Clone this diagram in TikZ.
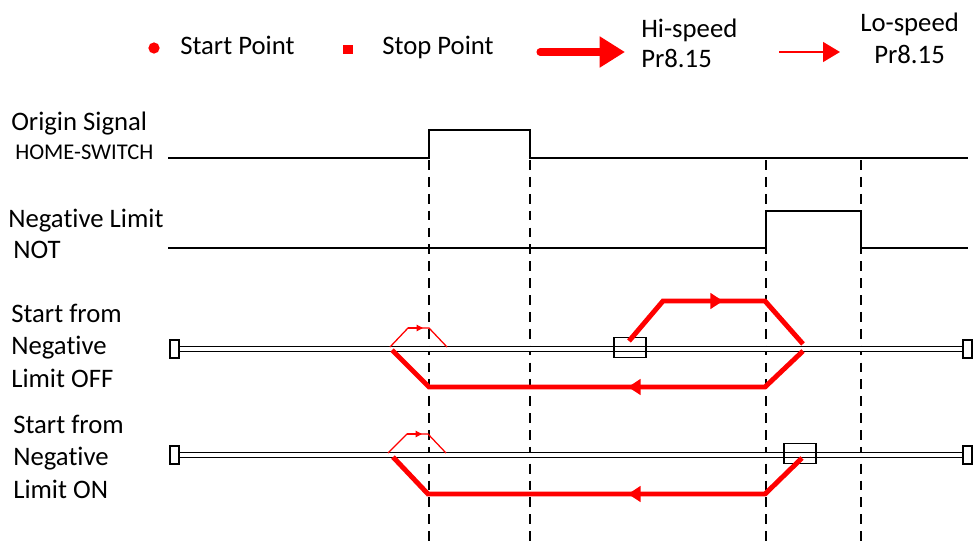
\documentclass[tikz,border=0pt]{standalone}
\usepackage{fontspec}
\setmainfont[Ligatures={NoCommon,NoContextual},Contextuals=NoAlternate]{Carlito}
\usetikzlibrary{arrows.meta}
\tikzset{
  lbl/.style={anchor=base west, inner sep=0pt, align=left,
    font=\fontsize{19}{23.1}\selectfont},
  small lbl/.style={lbl, font=\fontsize{16}{19}\selectfont},
  sig/.style={line width=1pt},
  mark line/.style={dash pattern=on 7pt off 5pt, line width=1pt},
  rail/.style={double, double distance=2.2pt, line width=1pt},
  rail end/.style={draw, line width=0.9pt, fill=white, inner sep=0pt,
    minimum width=6.4pt, minimum height=12.8pt},
  pos box/.style={draw, line width=0.9pt, inner sep=0pt,
    minimum width=22.8pt, minimum height=14.6pt},
  hi/.style={red, line width=3.5pt},
  lo/.style={red, line width=0.9pt},
  hi tip/.style={hi, -{Triangle[length=9pt,width=11pt]}},
  lo tip/.style={lo, -{Triangle[length=4.5pt,width=4.5pt]}}
}
\begin{document}
\begin{tikzpicture}[x={(0.025cm,0)}, y={(0,-0.025cm)}]
\useasboundingbox[fill=white] (0,0) rectangle (973,541);

% legend
\fill[red] (154,48) circle (4pt);
\node[lbl] (startlbl) at (180,54) {Start Point};
\fill[red] (343,45) rectangle (353,54);
\node[lbl] (stoplbl) at (382,54) {Stop Point};
\draw[red, line width=5pt, line cap=round, -{Triangle[length=18pt,width=21pt]}] (540,52) -- (625,52);
\node[lbl] (hilbl) at (641,37) {Hi-speed};
\node[lbl] (hipr) at (641,67) {Pr8.15};
\draw[red, line width=1.4pt, -{Triangle[length=12pt,width=14pt]}] (779,52) -- (840,52);
\node[lbl] (lolbl) at (860,31) {Lo-speed};
\node[lbl] (lopr) at (874,63) {Pr8.15};

% signal names
\node[lbl] (origin) at (11,130) {Origin Signal};
\node[small lbl] (home) at (15,159) {HOME-SWITCH};
\node[lbl] (neglim) at (8,227) {Negative Limit};
\node[lbl] (negnot) at (13,258) {NOT};
\node[lbl] (offcase) at (11,387) {Start from\\Negative\\Limit OFF};
\node[lbl] (oncase) at (13,498) {Start from\\Negative\\Limit ON};

% signals
\draw[sig] (168,158) -- (429,158) -- (429,130) -- (530,130) -- (530,158) -- (968,158);
\draw[sig] (168,248) -- (766,248) -- (766,211) -- (861,211) -- (861,248) -- (968,248);
\foreach \x in {429,530,766,861}
  \draw[mark line] (\x,160) -- (\x,541);

% rails
\draw[rail] (175,349) -- (967,349);
\draw[rail] (175,455) -- (967,455);
\node[rail end] (offL) at (174.5,349) {};
\node[rail end] (offR) at (967.5,349) {};
\node[rail end] (onL) at (174.5,455) {};
\node[rail end] (onR) at (967.5,455) {};
\node[pos box] (startbox) at (630,347.5) {};
\node[pos box] (stopbox) at (800,453.5) {};

% Limit OFF run
\draw[hi] (629,341) -- (663,301) -- (765,301) -- (803,344);
\draw[hi tip] (663,301) -- (723,301);
\draw[hi] (803,351) -- (765,387) -- (429,387) -- (392,350);
\draw[hi tip] (765,387) -- (628,387);
\draw[lo] (390,347) -- (408,328) -- (429,328) -- (447,347);
\draw[lo tip] (408,328) -- (423,328);

% Limit ON run
\draw[hi] (802,458) -- (765,494) -- (428,494) -- (393,457);
\draw[hi tip] (765,494) -- (628,494);
\draw[lo] (388,453) -- (407,434) -- (428,434) -- (446,453);
\draw[lo tip] (407,434) -- (422,434);
\end{tikzpicture}
\end{document}
